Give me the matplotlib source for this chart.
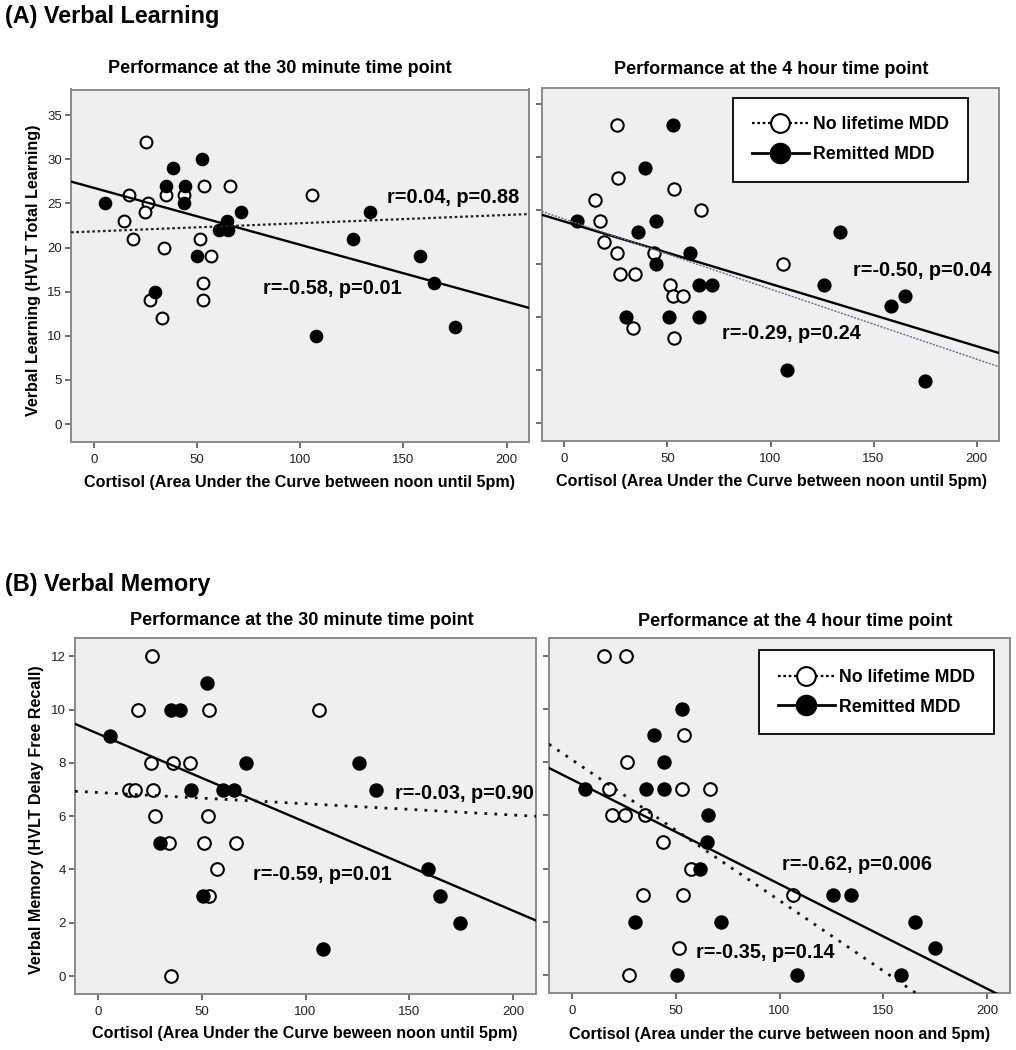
import matplotlib
matplotlib.use("Agg")
import matplotlib.pyplot as plt
from matplotlib.lines import Line2D
import numpy as np

plt.rcParams['font.family'] = ['Liberation Sans', 'DejaVu Sans']

# ---------------- data ----------------
# (A) Verbal learning, 30 minute time point
tl_open_x = [25.4, 17.2, 14.8, 26.2, 24.9, 19.2, 27.4, 33.3, 34.1, 35.1, 43.6, 51.3, 57.0, 53.3, 52.8, 53.0, 66.0, 105.9]
tl_open_y = [32, 26, 23, 25, 24, 21, 14, 12, 20, 26, 26, 21, 19, 27, 16, 14, 27, 26]
tl_fill_x = [5.7, 29.8, 35.2, 38.5, 44.3, 43.9, 52.5, 50.0, 60.7, 64.8, 65.1, 71.3, 125.4, 133.6, 107.7, 158.2, 164.8, 174.9]
tl_fill_y = [25, 15, 27, 29, 27, 25, 30, 19, 22, 23, 22, 24, 21, 24, 10, 19, 16, 11]

# (A) Verbal learning, 4 hour time point
tr_open_x = [25.4, 26.2, 15.1, 17.3, 19.4, 25.4, 27.0, 34.3, 33.5, 43.7, 53.4, 66.4, 51.3, 52.6, 57.5, 53.0, 106.0]
tr_open_y = [28, 23, 21, 19, 17, 16, 14, 14, 9, 16, 22, 20, 13, 12, 12, 8, 15]
tr_fill_x = [6.0, 52.6, 39.2, 35.6, 44.5, 44.5, 61.0, 30.0, 50.7, 65.1, 65.1, 71.6, 133.9, 125.8, 108.2, 158.7, 165.2, 174.9]
tr_fill_y = [19, 28, 24, 18, 19, 15, 16, 10, 10, 10, 13, 13, 18, 13, 5, 11, 12, 4]

# (B) Verbal memory, 30 minute time point
bl_open_x = [25.9, 19.3, 53.7, 106.3, 25.5, 36.1, 44.2, 15.0, 17.7, 26.7, 27.5, 53.2, 34.1, 51.2, 66.5, 57.6, 53.7, 35.0]
bl_open_y = [12, 10, 10, 10, 8, 8, 8, 7, 7, 7, 6, 6, 5, 5, 5, 4, 3, 0]
bl_fill_x = [6.0, 52.8, 35.3, 39.8, 45.0, 30.1, 50.7, 60.5, 65.4, 71.5, 125.9, 134.0, 108.3, 158.9, 165.0, 174.6]
bl_fill_y = [9, 11, 10, 10, 7, 5, 3, 7, 7, 8, 8, 7, 1, 4, 3, 2]

# (B) Verbal memory, 4 hour time point
br_open_x = [15.4, 26.2, 53.8, 26.6, 17.7, 53.1, 66.6, 19.3, 25.8, 35.0, 44.1, 57.5, 34.2, 53.5, 106.4, 51.4, 27.3]
br_open_y = [12, 12, 9, 8, 7, 7, 7, 6, 6, 6, 5, 4, 3, 3, 3, 1, 0]
br_fill_x = [6.1, 53.0, 39.5, 44.6, 35.8, 44.6, 65.5, 65.0, 61.5, 30.5, 71.6, 50.6, 108.2, 126.0, 134.2, 165.3, 175.0, 158.6]
br_fill_y = [7, 10, 9, 8, 7, 7, 6, 5, 4, 2, 2, 0, 0, 3, 3, 2, 1, 0]

# fit lines: (intercept, slope) for remitted (solid) and no-lifetime (dotted)
fit_solid = {'tl': (26.76, -0.0645), 'tr': (18.955, -0.05855), 'bl': (9.10, -0.03325), 'br': (7.345, -0.0393)}
fit_dotted = {'tl': (21.82, 0.00933), 'tr': (19.19, -0.0658), 'bl': (6.89, -0.00423), 'br': (8.09, -0.0529)}

# annotations
ann_text = {'tl': ["r=0.04, p=0.88", "r=-0.58, p=0.01"],
            'tr': ["r=-0.50, p=0.04", "r=-0.29, p=0.24"],
            'bl': ["r=-0.03, p=0.90", "r=-0.59, p=0.01"],
            'br': ["r=-0.62, p=0.006", "r=-0.35, p=0.14"]}
ann_pos = {'tl': [(142.3, 25.7), (82.0, 15.4)],
           'tr': [(140.0, 14.36), (76.6, 8.46)],
           'bl': [(143.0, 6.84), (74.8, 3.8)],
           'br': [(101.3, 4.17), (59.9, 0.85)]}

x_ticks = [0, 50, 100, 150, 200]
yticks_A = [0, 5, 10, 15, 20, 25, 30, 35]
yticks_A4 = [0, 5, 10, 15, 20, 25, 30]
yticks_B = [0, 2, 4, 6, 8, 10, 12]

titles = {'tl': "Performance at the 30 minute time point", 'tr': "Performance at the 4 hour time point",
          'bl': "Performance at the 30 minute time point", 'br': "Performance at the 4 hour time point"}
xlabels = {'tl': "Cortisol (Area Under the Curve between noon until 5pm)",
           'tr': "Cortisol (Area Under the Curve between noon until 5pm)",
           'bl': "Cortisol (Area Under the Curve beween noon until 5pm)",
           'br': "Cortisol (Area under the curve between noon and 5pm)"}
ylabels = {'tl': "Verbal Learning (HVLT Total Learning)", 'bl': "Verbal Memory (HVLT Delay Free Recall)"}
legend_labels = ["No lifetime MDD", "Remitted MDD"]

# ---------------- figure ----------------
W, H = 1016, 1050
fig = plt.figure(figsize=(W / 100, H / 100), dpi=100)


def fx(px):
    return px / W


def fy(py):
    return 1 - py / H


def box(l, t, r, b):
    return [fx(l), fy(b), (r - l) / W, (b - t) / H]


axes = {
    'tl': fig.add_axes(box(71, 89.5, 529.3, 441.7)),
    'tr': fig.add_axes(box(541.7, 88, 999.3, 440.7)),
    'bl': fig.add_axes(box(75, 637.7, 536, 994.3)),
    'br': fig.add_axes(box(549, 637.7, 1010, 993.3)),
}
ylims = {'tl': (-2.0, 37.9), 'tr': (-1.63, 31.5), 'bl': (-0.686, 12.7), 'br': (-0.685, 12.67)}
yticks = {'tl': yticks_A, 'tr': yticks_A4, 'bl': yticks_B, 'br': yticks_B}
data = {'tl': (tl_open_x, tl_open_y, tl_fill_x, tl_fill_y),
        'tr': (tr_open_x, tr_open_y, tr_fill_x, tr_fill_y),
        'bl': (bl_open_x, bl_open_y, bl_fill_x, bl_fill_y),
        'br': (br_open_x, br_open_y, br_fill_x, br_fill_y)}
msize = {'tl': 8.8, 'tr': 9.2, 'bl': 9.4, 'br': 9.4}
dotted_style = {'tl': dict(color='#222222', lw=1.6, ls=(0, (1.2, 1.2))),
                'tr': dict(color='#6a6a9c', lw=1.0, ls=(0, (1.5, 1.0))),
                'bl': dict(color='#111111', lw=2.0, ls=(0, (1, 2.6))),
                'br': dict(color='#111111', lw=2.0, ls=(0, (1, 2.6)))}

XL = (-11, 211)
for k, ax in axes.items():
    ax.set_facecolor('#efefef')
    for s in ax.spines.values():
        s.set_color('#8a8a8a')
        s.set_linewidth(1.4)
    ox, oy, fxs, fys = data[k]
    ms = msize[k]
    ax.plot(ox, oy, 'o', ms=ms - 0.3, mfc='white', mec='black', mew=1.5, ls='none', zorder=3)
    ax.plot(fxs, fys, 'o', ms=ms, mfc='black', mec='black', mew=1.0, ls='none', zorder=3)
    xs = np.array(XL)
    b0, b1 = fit_solid[k]
    ax.plot(xs, b0 + b1 * xs, color='black', lw=1.7, zorder=4)
    d0, d1 = fit_dotted[k]
    ax.plot(xs, d0 + d1 * xs, zorder=4, **dotted_style[k])
    ax.set_xlim(*XL)
    ax.set_ylim(*ylims[k])
    ax.set_xticks(x_ticks)
    ax.set_yticks(yticks[k])
    ax.tick_params(direction='out', length=4.5, width=1.2, color='#555555',
                   labelsize=9.5, labelcolor='#222222')
    ax.tick_params(axis='x', pad=4)
    ax.tick_params(axis='y', pad=2)
    if k in ('tr', 'br'):
        ax.set_yticklabels([])
    for txt, (tx, ty) in zip(ann_text[k], ann_pos[k]):
        ax.text(tx, ty, txt, fontsize=14.3, fontweight='bold', ha='left', va='center', zorder=5)

# legends
handles = [Line2D([0], [0], color='black', lw=1.6, ls=(0, (1.2, 1.2)), marker='o', ms=13.5,
                  mfc='white', mec='black', mew=1.5),
           Line2D([0], [0], color='black', lw=2.0, ls='-', marker='o', ms=14.5,
                  mfc='black', mec='black')]
for k, anchor in (('tr', (0.9316, 0.9725)), ('br', (0.965, 0.965))):
    leg = axes[k].legend(handles, legend_labels, loc='upper right', bbox_to_anchor=anchor,
                         borderaxespad=0, fancybox=False, framealpha=1, facecolor='white',
                         edgecolor='black', prop={'size': 12.8, 'weight': 'bold'},
                         handlelength=3.2, handletextpad=0.25, borderpad=1.05, labelspacing=0.72)
    leg.get_frame().set_linewidth(1.3)
    leg.set_zorder(6)

# titles and labels
title_pos = {'tl': (280, 68.5), 'tr': (771, 69.3), 'bl': (302, 620.4), 'br': (795.6, 621)}
for k, (px, py) in title_pos.items():
    fig.text(fx(px), fy(py), titles[k], fontsize=13, fontweight='bold', ha='center', va='center')

xlabel_pos = {'tl': (300, 482), 'tr': (771, 481.7), 'bl': (305, 1033.5), 'br': (779.5, 1034)}
for k, (px, py) in xlabel_pos.items():
    fig.text(fx(px), fy(py), xlabels[k], fontsize=11.6, fontweight='bold', ha='center', va='center')

ylabel_pos = {'tl': (34, 270), 'bl': (37, 820)}
for k, (px, py) in ylabel_pos.items():
    fig.text(fx(px), fy(py), ylabels[k], fontsize=11.6, fontweight='bold', ha='center', va='center',
             rotation=90)

fig.text(fx(5), fy(16), "(A) Verbal Learning", fontsize=16.8, fontweight='bold', ha='left', va='center')
fig.text(fx(5), fy(584), "(B) Verbal Memory", fontsize=16.8, fontweight='bold', ha='left', va='center')

fig.savefig('out.png', dpi=100, facecolor='white')
